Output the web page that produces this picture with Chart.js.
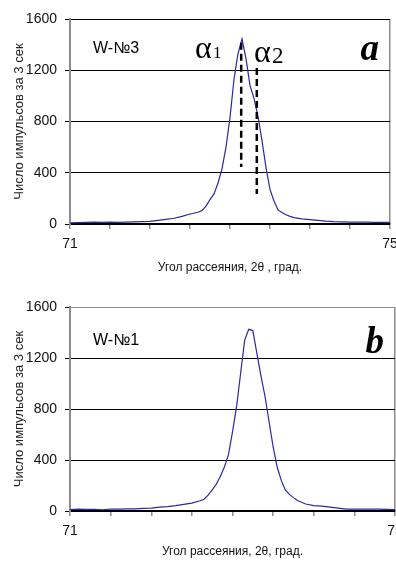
<!DOCTYPE html>
<html>
<head>
<meta charset="utf-8">
<script src="https://cdn.jsdelivr.net/npm/chart.js@4.4.1/dist/chart.umd.min.js"></script>
<style>
    html, body { margin: 0; padding: 0; background: #fff; overflow: hidden; width: 396px; height: 562px; }
    .panel { position: absolute; left: 0; }
    #boxA { top: 0; width: 410px; height: 290px; }
    #boxB { top: 290px; width: 420px; height: 272px; }
</style>
</head>
<body>
<div class="panel" id="boxA"><canvas id="chartA"></canvas></div>
<div class="panel" id="boxB"><canvas id="chartB"></canvas></div>
<script>
// W-№3 (panel a)
const anglesA = [71.0, 71.1, 71.2, 71.3, 71.4, 71.5, 71.6, 71.7, 71.8, 71.9, 72.0, 72.1, 72.2, 72.3, 72.4, 72.5, 72.6, 72.65, 72.7, 72.75, 72.8, 72.85, 72.9, 72.95, 73.0, 73.05, 73.1, 73.15, 73.2, 73.25, 73.3, 73.35, 73.4, 73.45, 73.5, 73.55, 73.6, 73.65, 73.7, 73.75, 73.8, 73.9, 74.0, 74.1, 74.2, 74.3, 74.4, 74.5, 74.6, 74.7, 74.8, 74.9, 75.0];
const countsA = [8, 10, 12, 14, 12, 14, 12, 15, 16, 18, 20, 28, 36, 45, 60, 78, 92, 105, 140, 190, 235, 320, 430, 600, 830, 1130, 1330, 1445, 1290, 1080, 980, 840, 650, 440, 270, 180, 110, 90, 72, 60, 50, 40, 34, 28, 22, 18, 16, 15, 14, 14, 12, 13, 12];

// W-№1 (panel b)
const anglesB = [71.0, 71.1, 71.2, 71.3, 71.4, 71.5, 71.6, 71.7, 71.8, 71.9, 72.0, 72.1, 72.2, 72.3, 72.4, 72.5, 72.6, 72.65, 72.7, 72.75, 72.8, 72.85, 72.9, 72.95, 73.0, 73.05, 73.1, 73.15, 73.2, 73.25, 73.3, 73.35, 73.4, 73.45, 73.5, 73.55, 73.6, 73.65, 73.7, 73.75, 73.8, 73.9, 74.0, 74.1, 74.2, 74.3, 74.4, 74.5, 74.6, 74.7, 74.8, 74.9, 75.0];
const countsB = [10, 14, 12, 12, 10, 14, 15, 16, 16, 20, 22, 30, 35, 42, 52, 62, 80, 92, 125, 165, 210, 270, 345, 440, 620, 818, 1080, 1340, 1425, 1415, 1237, 1060, 900, 700, 504, 345, 240, 165, 130, 105, 82, 55, 42, 38, 30, 22, 15, 14, 14, 14, 14, 12, 10];

const yTicks = [0, 400, 800, 1200, 1600];
const xTickLabels = [71, 75];

// alpha1 / alpha2 marker lines: [angle, from count, to count]
const alphaLines = [[73.14, 445, 1415], [73.335, 234, 1217]];

const yTitle = "Число импульсов за 3 сек";
const axisFont = "'Liberation Sans Narrow', 'Arial Narrow', 'Liberation Sans', sans-serif";
const textFont = "'Liberation Sans', Arial, sans-serif";

const panelMarks = {
    id: "panelMarks",
    afterDatasetsDraw(chart, args, opts) {
        const ctx = chart.ctx;
        const area = chart.chartArea;
        const xs = chart.scales.x;
        const ys = chart.scales.y;

        ctx.save();
        ctx.fillStyle = "#000";
        ctx.textBaseline = "alphabetic";

        ctx.font = "16px " + textFont;
        ctx.textAlign = "left";
        ctx.fillText(opts.name, area.left + 23, area.top + opts.nameY);

        ctx.font = "italic bold 37px 'Liberation Serif', 'Times New Roman', serif";
        ctx.textAlign = "right";
        ctx.fillText(opts.letter, area.right - 11, area.top + opts.letterY);

        if (opts.alpha) {
            ctx.textAlign = "left";
            ctx.font = "32px 'Liberation Serif', 'Times New Roman', serif";
            ctx.fillText("α", 195, 58);
            ctx.fillText("α", 254, 62);
            ctx.font = "17px 'Liberation Serif', 'Times New Roman', serif";
            ctx.fillText("1", 213, 58);
            ctx.font = "23px 'Liberation Serif', 'Times New Roman', serif";
            ctx.fillText("2", 272, 63);

            ctx.strokeStyle = "#000";
            ctx.lineWidth = 2.5;
            ctx.setLineDash([7, 4]);
            alphaLines.forEach(line => {
                const px = xs.getPixelForValue(line[0]);
                ctx.beginPath();
                ctx.moveTo(px, ys.getPixelForValue(line[2]));
                ctx.lineTo(px, ys.getPixelForValue(line[1]));
                ctx.stroke();
            });
        }
        ctx.restore();
    }
};

function makeChart(id, angles, counts, cfg) {
    const points = angles.map((a, i) => ({ x: a, y: counts[i] }));

    return new Chart(document.getElementById(id), {
        type: "line",

        data: {
            datasets: [{
                data: points,
                borderColor: "#2a2a9c",
                borderWidth: 1.2,
                pointRadius: 0,
                tension: 0,
                fill: false
            }]
        },

        options: {
            responsive: true,
            maintainAspectRatio: false,
            animation: false,

            layout: {
                padding: { top: cfg.padTop, right: cfg.padRight, left: 0, bottom: 0 }
            },

            plugins: {
                legend: { display: false },
                tooltip: { enabled: false },
                panelMarks: cfg.marks
            },

            scales: {
                x: {
                    type: "linear",
                    min: 71,
                    max: 75,
                    afterFit: scale => { scale.height = cfg.xHeight; },
                    ticks: {
                        stepSize: 0.5,
                        autoSkip: false,
                        maxRotation: 0,
                        padding: 7,
                        color: "#111",
                        font: { family: axisFont, size: 14 },
                        callback: value => xTickLabels.includes(value) ? String(value) : ""
                    },
                    grid: {
                        color: c => c.tick && c.tick.value === 75 ? "#8c8c8c" : "rgba(0,0,0,0)",
                        tickColor: "#8c8c8c",
                        tickLength: 5,
                        lineWidth: 1.5
                    },
                    border: { color: "#000", width: 1.5 },
                    title: {
                        display: true,
                        text: cfg.xTitle,
                        color: "#111",
                        font: { family: textFont, size: 12 },
                        padding: { top: 0, bottom: cfg.xTitlePad }
                    }
                },

                y: {
                    min: 0,
                    max: 1600,
                    afterFit: scale => { scale.width = 70; },
                    afterBuildTicks: scale => {
                        scale.ticks = yTicks.map(v => ({ value: v }));
                    },
                    ticks: {
                        padding: 8,
                        color: "#111",
                        font: { family: axisFont, size: 14 },
                        callback: value => String(value)
                    },
                    grid: {
                        color: c => c.tick && c.tick.value === 1600 ? cfg.topLine : "#000",
                        tickColor: "#000",
                        tickLength: 5,
                        lineWidth: 1
                    },
                    border: { color: "#8c8c8c", width: 2 },
                    title: {
                        display: true,
                        text: yTitle,
                        color: "#222",
                        font: { family: textFont, size: 13 },
                        padding: { top: 12, bottom: 0 }
                    }
                }
            }
        },

        plugins: [panelMarks]
    });
}

makeChart("chartA", anglesA, countsA, {
    padTop: 19,
    padRight: 20,
    xHeight: 66,
    xTitle: "Угол рассеяния, 2θ , град.",
    xTitlePad: 15,
    topLine: "#000",
    marks: { name: "W-№3", nameY: 34, letter: "a", letterY: 41, alpha: true }
});

makeChart("chartB", anglesB, countsB, {
    padTop: 17,
    padRight: 25,
    xHeight: 51,
    xTitle: "Угол рассеяния, 2θ, град.",
    xTitlePad: 3,
    topLine: "#8c8c8c",
    marks: { name: "W-№1", nameY: 38, letter: "b", letterY: 46, alpha: false }
});
</script>
</body>
</html>
